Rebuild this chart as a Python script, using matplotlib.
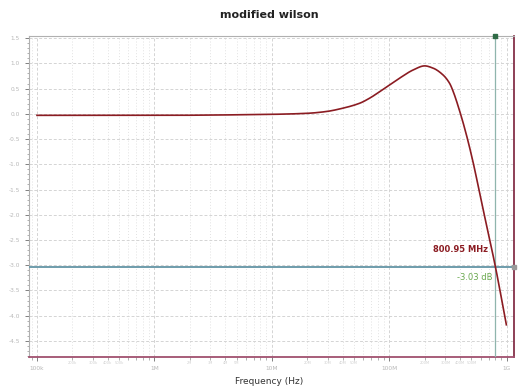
import numpy as np
import matplotlib
matplotlib.use("Agg")
import matplotlib.pyplot as plt
from matplotlib.ticker import FixedLocator, NullFormatter, MultipleLocator, FormatStrFormatter

# Frequency response of the modified Wilson current mirror
freq_hz = [1e5, 1e6, 1e7, 2e7, 2.9e7, 4e7, 5.6e7, 6.8e7, 8.3e7, 1.01e8, 1.23e8, 1.6e8,
           2e8, 2.36e8, 2.87e8, 3.27e8, 3.49e8, 3.98e8, 4.54e8, 5.16e8, 6.09e8,
           8.0095e8, 9.93e8]
gain_db = [-0.03, -0.03, -0.01, 0.01, 0.045, 0.11, 0.21, 0.31, 0.44, 0.575, 0.71, 0.87,
           0.95, 0.905, 0.77, 0.60, 0.45, 0.05, -0.42, -0.95, -1.74,
           -3.03, -4.18]

marker_freq = 800.95e6
marker_db = -3.03

major_ticks = [1e5, 1e6, 1e7, 1e8, 1e9]
major_labels = ["100k", "1M", "10M", "100M", "1G"]


def pchip(xs, ys, xq):
    """Monotone cubic (Fritsch-Carlson) interpolation."""
    xs = np.asarray(xs, float)
    ys = np.asarray(ys, float)
    h = np.diff(xs)
    d = np.diff(ys) / h
    m = np.zeros_like(ys)
    for k in range(1, len(xs) - 1):
        if d[k - 1] * d[k] > 0:
            w1 = 2 * h[k] + h[k - 1]
            w2 = h[k] + 2 * h[k - 1]
            m[k] = (w1 + w2) / (w1 / d[k - 1] + w2 / d[k])
    m[0] = d[0]
    m[-1] = d[-1]
    out = np.empty_like(xq)
    for i, x in enumerate(xq):
        k = min(max(np.searchsorted(xs, x) - 1, 0), len(xs) - 2)
        t = (x - xs[k]) / h[k]
        out[i] = ((2 * t**3 - 3 * t**2 + 1) * ys[k] + (t**3 - 2 * t**2 + t) * h[k] * m[k]
                  + (-2 * t**3 + 3 * t**2) * ys[k + 1] + (t**3 - t**2) * h[k] * m[k + 1])
    return out


fig = plt.figure(figsize=(5.18, 3.89), dpi=100)
ax = fig.add_axes([0.056, 0.082, 0.936, 0.826])

lf = np.log10(freq_hz)
fine = np.linspace(lf[0], lf[-1], 800)
curve = pchip(lf, gain_db, fine)
ax.plot(10**fine, curve, color="#8b1c22", lw=1.2, zorder=5)

ax.set_xscale("log")
ax.set_xlim(85.5e3, 1.15e9)
ax.set_ylim(-4.82, 1.546)

ax.xaxis.set_major_locator(FixedLocator(major_ticks))
ax.set_xticklabels(major_labels)
minor_ticks = [d * m for d in [1e4, 1e5, 1e6, 1e7, 1e8] for m in range(2, 10)]
ax.xaxis.set_minor_locator(FixedLocator(minor_ticks))
ax.xaxis.set_minor_formatter(NullFormatter())
ax.yaxis.set_major_locator(MultipleLocator(0.5))
ax.yaxis.set_minor_locator(MultipleLocator(0.1))
ax.yaxis.set_major_formatter(FormatStrFormatter("%.1f"))
ax.grid(True, which="major", axis="both", color="#d4d4d4", ls=(0, (3, 2)), lw=0.7)
ax.grid(True, which="minor", axis="x", color="#e2e2e2", ls=(0, (1, 2)), lw=0.7)

ax.tick_params(axis="both", which="major", labelsize=4.2, labelcolor="#b8b8b8",
               color="#808080", length=3, width=0.7)
ax.tick_params(axis="both", which="minor", color="#909090", length=1.8, width=0.5)

# faint labels on the lower minor ticks of each decade
for d in [1e5, 1e6, 1e7, 1e8]:
    for m in range(2, 6):
        f = d * m
        if d < 1e6:
            lbl = f"{int(f / 1e3)}k"
        else:
            lbl = f"{int(f / 1e6)}M"
        ax.text(f, -0.012, lbl, transform=ax.get_xaxis_transform(), ha="center",
                va="top", fontsize=2.6, color="#d0d0d0")

for s in ["top", "left"]:
    ax.spines[s].set_color("#b0b0b0")
    ax.spines[s].set_linewidth(0.8)
ax.spines["right"].set_color("#7a1f3a")
ax.spines["right"].set_linewidth(1.2)
ax.spines["bottom"].set_color("#a0506e")
ax.spines["bottom"].set_linewidth(1.3)

# marker cursors
ax.axvline(marker_freq, color="#8fb5ad", lw=0.9, zorder=4)
ax.axhline(marker_db, color="#6e9cab", lw=1.4, zorder=4)
ax.plot([marker_freq], [1.546], marker="s", color="#2f6b46", ms=3, clip_on=False, zorder=6)
ax.plot([1.15e9], [marker_db], marker="s", color="#9a9a9a", ms=2.5, clip_on=False, zorder=6)

ax.text(marker_freq * 0.86, -2.68, "800.95 MHz", color="#8b1c22", fontsize=6,
        fontweight="bold", ha="right", va="center")
ax.text(marker_freq * 0.94, -3.25, f"{marker_db:.2f} dB", color="#6aa84f", fontsize=6,
        ha="right", va="center")

fig.text(0.52, 0.962, "modified wilson", ha="center", va="center", fontsize=8,
         fontweight="bold", color="#222222")
fig.text(0.52, 0.02, "Frequency (Hz)", ha="center", va="center", fontsize=6.5,
         color="#333333")

fig.savefig("out.png", dpi=100)
